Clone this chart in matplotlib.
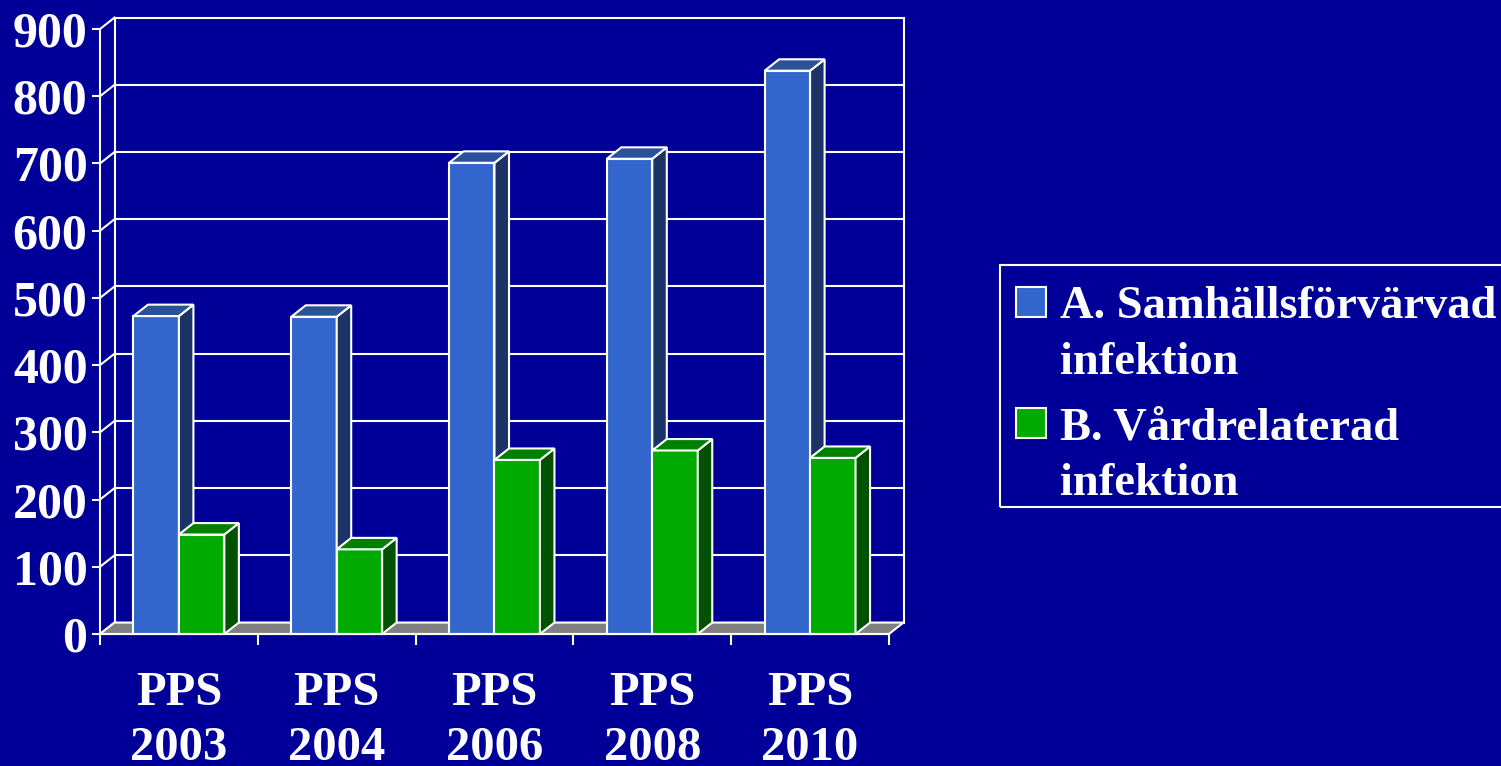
import numpy as np
import matplotlib
matplotlib.use("Agg")
import matplotlib.pyplot as plt
from matplotlib.patches import Polygon, Rectangle
from matplotlib.lines import Line2D
from matplotlib import transforms

# --- data -------------------------------------------------------------
categories = ["PPS\n2003", "PPS\n2004", "PPS\n2006", "PPS\n2008", "PPS\n2010"]
samhall = [473, 472, 701, 707, 838]      # A. Samhällsförvärvad infektion
vard = [148, 126, 259, 273, 262]         # B. Vårdrelaterad infektion
series_labels = ["A. Samhällsförvärvad\ninfektion", "B. Vårdrelaterad\ninfektion"]
yticks = list(range(0, 1000, 100))

# --- style ------------------------------------------------------------
BG = "#000099"
FONT = "Liberation Serif"
faces = [
    {"front": "#3366CC", "top": "#2A5298", "side": "#1C3366"},
    {"front": "#00AA00", "top": "#008000", "side": "#005200"},
]
W = 0.288          # bar width in category units
DX = 0.092         # depth offset (x, category units)
DY = 17.0          # depth offset (y, value units)
EDGE = dict(edgecolor="white", linewidth=1.5, joinstyle="miter")

W_PX, H_PX = 1501, 766
fig = plt.figure(figsize=(W_PX / 100, H_PX / 100), dpi=100, facecolor=BG)

# axes placed in pixel terms: front-left corner of floor and back wall top
left, right_, bottom, top = 100, 903.5, 634, 17.6
ax = fig.add_axes([left / W_PX, (H_PX - bottom) / H_PX,
                   (right_ - left) / W_PX, (bottom - top) / H_PX])
ax.set_facecolor("none")
n = len(categories)
xmin, xmax = -0.5, n - 0.5
ymax = yticks[-1]
ax.set_xlim(xmin, xmax + DX)
ax.set_ylim(0, ymax + DY)
for s in ax.spines.values():
    s.set_visible(False)

z = [1]


def nz():
    z[0] += 1
    return z[0]


def line(xs, ys, lw=1.5):
    ax.add_line(Line2D(xs, ys, color="white", lw=lw, zorder=nz(),
                       clip_on=False, solid_capstyle="projecting"))


# back wall gridlines + side wall diagonals
for v in yticks:
    line([xmin + DX, xmax + DX], [v + DY, v + DY])
    line([xmin, xmin + DX], [v, v + DY])
line([xmin + DX, xmin + DX], [DY, ymax + DY])
line([xmax + DX, xmax + DX], [DY, ymax + DY])
line([xmin, xmin], [0, ymax])

# floor
ax.add_patch(Polygon([(xmin, 0), (xmax, 0), (xmax + DX, DY), (xmin + DX, DY)],
                     closed=True, facecolor="#808080", zorder=nz(),
                     clip_on=False, **EDGE))

# 3-D bars
for i in range(n):
    for s, vals in enumerate([samhall, vard]):
        v = vals[i]
        x0 = i - W + s * W
        c = faces[s]
        ax.bar(x0, v, width=W, align="edge", color=c["front"], zorder=nz(),
               clip_on=False, **EDGE)
        ax.add_patch(Polygon([(x0 + W, 0), (x0 + W + DX, DY),
                              (x0 + W + DX, v + DY), (x0 + W, v)],
                             closed=True, facecolor=c["side"], zorder=nz(),
                             clip_on=False, **EDGE))
        ax.add_patch(Polygon([(x0, v), (x0 + W, v), (x0 + W + DX, v + DY),
                              (x0 + DX, v + DY)],
                             closed=True, facecolor=c["top"], zorder=nz(),
                             clip_on=False, **EDGE))

# front floor edge drawn on top
line([xmin, xmax], [0, 0])

# y axis ticks and labels
ax.set_yticks(yticks)
ax.set_yticklabels([str(t) for t in yticks], fontsize=36, fontweight="bold",
                   color="white", family=FONT)
ax.tick_params(axis="y", length=6, width=1.5, color="white", pad=3)

# x axis: ticks at category boundaries, labels drawn under each category
ax.set_xticks(np.arange(xmin, xmax + 0.01, 1.0))
ax.set_xticklabels([])
ax.tick_params(axis="x", length=8, width=1.5, color="white")
for i, cat in enumerate(categories):
    for k, part in enumerate(cat.split("\n")):
        tr = transforms.offset_copy(ax.get_xaxis_transform(), fig=fig,
                                    x=0, y=-(71 + 55 * k), units="dots")
        ax.text(i, 0, part, transform=tr, ha="center", va="baseline",
                fontsize=35, fontweight="bold", color="white", family=FONT)


# legend (manual)
def fx(px):
    return px / W_PX


def fy(py):
    return (H_PX - py) / H_PX


fig.patches.append(Rectangle((fx(1000), fy(507)), fx(520), (507 - 265) / H_PX,
                             transform=fig.transFigure, facecolor="none",
                             edgecolor="white", linewidth=1.5))
entry_tops = [287, 408]
for s, (lab, top_px) in enumerate(zip(series_labels, entry_tops)):
    fig.patches.append(Rectangle((fx(1016), fy(top_px + 30)), fx(30), 30 / H_PX,
                                 transform=fig.transFigure,
                                 facecolor=faces[s]["front"],
                                 edgecolor="white", linewidth=1.5))
    for k, part in enumerate(lab.split("\n")):
        fig.text(fx(1060), fy(top_px + 31 + 56 * k), part, ha="left",
                 va="baseline", fontsize=33.5, fontweight="bold",
                 color="white", family=FONT)

fig.savefig("out.png", dpi=100, facecolor=BG)
